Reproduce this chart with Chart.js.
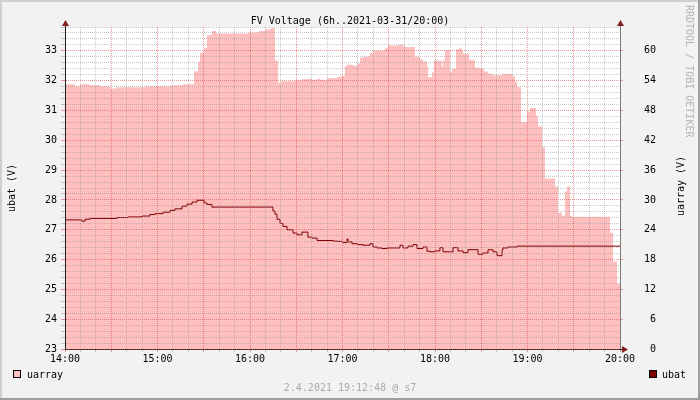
<!DOCTYPE html>
<html><head><meta charset="utf-8">
<script src="https://cdn.jsdelivr.net/npm/chart.js@4/dist/chart.umd.min.js"></script>
<style>html,body{margin:0;padding:0;background:#f2f2f2;}canvas{display:block;}</style>
</head><body>
<canvas id="c" width="700" height="400"></canvas>
<script>
const chartTitle = 'FV Voltage (6h..2021-03-31/20:00)';
const hourLabels = ['14:00','15:00','16:00','17:00','18:00','19:00','20:00'];
const seriesNames = ['uarray','ubat'];
const leftAxisTitle = 'ubat (V)';
const rightAxisTitle = 'uarray (V)';
const footerText = '2.4.2021 19:12:48 @ s7';
const watermarkText = 'RRDTOOL / TOBI OETIKER';

// minutes after 14:00
const uarrayMinutes = [0,6.5,9.7,16.2,22.7,29.2,33.7,51.9,68.1,76.5,83.7,86.3,87.6,90.2,92.1,95.3,97.9,118.7,125.8,129.7,133.6,136.2,138.2,140.1,149.2,153.7,157.6,160.2,163.5,165.4,170.0,176.4,179.7,181.6,182.9,186.8,189.4,191.4,193.3,197.8,199.8,207.6,209.5,216.0,218.6,220.5,227.0,230.3,232.2,234.8,235.5,238.1,239.3,244.5,245.2,246.5,249.7,251.0,253.6,255.6,257.5,258.2,262.1,265.9,269.2,271.8,274.4,277.6,283.5,289.9,291.9,293.2,295.8,299.7,301.6,305.5,306.8,309.4,311.3,317.8,319.8,322.4,324.3,325.6,327.6,328.9,353.5,355.5,358.1,360];
const uarrayValues = [53.3,52.9,53.3,53.1,52.9,52.4,52.7,52.9,53.1,53.3,55.9,57.8,59.6,60.5,63.2,64.0,63.5,63.7,64.0,64.3,64.6,58.0,53.6,53.9,54.1,54.3,54.4,54.2,54.4,54.2,54.5,54.8,55.0,57.0,57.2,57.0,57.5,58.6,58.8,59.5,60.0,60.5,61.1,61.3,61.1,60.8,58.8,58.3,57.9,56.8,54.7,55.7,58.0,56.8,58.0,60.1,55.8,56.4,60.3,60.5,60.1,59.4,58.2,56.6,56.4,55.8,55.4,55.1,55.4,54.9,53.8,52.7,45.7,47.8,48.5,46.8,44.8,40.6,34.3,32.7,27.4,26.8,31.7,32.7,26.8,26.6,23.4,17.6,13.2,13.2];
const ubatMinutes = [0,11.0,13.0,16.2,33.7,40.9,49.9,55.1,58.4,63.6,68.1,71.3,75.9,79.1,82.4,85.6,90.2,92.1,95.3,134.9,136.2,137.5,139.5,141.4,144.0,147.9,150.5,153.7,157.6,160.2,163.5,173.8,176.4,180.3,182.9,183.6,186.2,190.0,193.3,197.8,199.8,202.4,205.6,208.9,217.3,219.2,222.5,225.7,228.3,232.2,234.8,236.8,240.0,243.2,245.2,251.7,254.9,258.2,261.4,267.9,271.1,274.4,277.6,280.2,283.5,284.1,287.3,293.2,360];
const ubatValues = [27.33,27.29,27.35,27.38,27.41,27.43,27.46,27.51,27.54,27.59,27.65,27.70,27.79,27.86,27.93,27.99,27.90,27.85,27.76,27.63,27.52,27.35,27.21,27.11,27.00,26.89,26.83,26.92,26.75,26.72,26.64,26.62,26.61,26.57,26.69,26.59,26.53,26.50,26.48,26.53,26.42,26.39,26.37,26.39,26.48,26.39,26.45,26.50,26.37,26.42,26.28,26.26,26.29,26.40,26.26,26.40,26.29,26.23,26.33,26.18,26.22,26.33,26.26,26.13,26.33,26.39,26.42,26.45,26.45];

const FONT = '"DejaVu Sans Mono", monospace';
const uarrayColor = '#FFBFBF';
const ubatColor = '#800000';
const gridColor = 'rgba(143,143,143,0.5)';
const mgridColor = 'rgba(222,79,79,0.6)';
const isInt = v => Math.abs(v - Math.round(v)) < 1e-6;

const decor = {
  id: 'decor',
  beforeDraw(chart) {
    const {ctx, chartArea: a, width: W, height: H} = chart;
    ctx.save();
    ctx.fillStyle = '#f2f2f2'; ctx.fillRect(0, 0, W, H);
    ctx.fillStyle = '#cfcfcf'; ctx.fillRect(0, 0, W, 2); ctx.fillRect(0, 0, 2, H);
    ctx.fillStyle = '#9e9e9e'; ctx.fillRect(0, H - 2, W, 2); ctx.fillRect(W - 2, 0, 2, H);
    ctx.fillStyle = '#ffffff'; ctx.fillRect(a.left, a.top, a.right - a.left, a.bottom - a.top);
    ctx.restore();
  },
  afterDraw(chart) {
    const {ctx, chartArea: a} = chart;
    ctx.save();
    ctx.strokeStyle = '#1f1f1f'; ctx.lineWidth = 1;
    ctx.beginPath();
    ctx.moveTo(a.left + 0.5, a.top); ctx.lineTo(a.left + 0.5, a.top - 3);
    ctx.moveTo(a.right, a.bottom + 0.5); ctx.lineTo(a.right + 3, a.bottom + 0.5);
    ctx.stroke();
    ctx.strokeStyle = '#7a7a7a';
    ctx.beginPath(); ctx.moveTo(a.right + 0.5, a.top); ctx.lineTo(a.right + 0.5, a.top - 3); ctx.stroke();
    ctx.fillStyle = '#801f1f';
    const tri = (p) => { ctx.beginPath(); ctx.moveTo(p[0], p[1]); ctx.lineTo(p[2], p[3]); ctx.lineTo(p[4], p[5]); ctx.closePath(); ctx.fill(); };
    tri([a.left + 0.5, a.top - 7, a.left - 3, a.top - 1, a.left + 4, a.top - 1]);
    tri([a.right + 0.5, a.top - 7, a.right - 3, a.top - 1, a.right + 4, a.top - 1]);
    tri([a.right + 8, a.bottom + 0.5, a.right + 2, a.bottom - 3, a.right + 2, a.bottom + 4]);

    ctx.font = '10px ' + FONT;
    ctx.textBaseline = 'alphabetic'; ctx.textAlign = 'left';
    ctx.fillStyle = uarrayColor; ctx.fillRect(13.5, 370.5, 7, 7);
    ctx.strokeStyle = '#000'; ctx.strokeRect(13.5, 370.5, 7, 7);
    ctx.fillStyle = '#000'; ctx.fillText(seriesNames[0], 27, 378);
    ctx.fillStyle = ubatColor; ctx.fillRect(649.5, 370.5, 7, 7);
    ctx.strokeStyle = '#000'; ctx.strokeRect(649.5, 370.5, 7, 7);
    ctx.fillStyle = '#000'; ctx.fillText(seriesNames[1], 662, 378);
    ctx.fillStyle = '#aaaaaa'; ctx.textAlign = 'center';
    ctx.fillText(footerText, 350, 391);
    ctx.save();
    ctx.translate(681, 186); ctx.rotate(-Math.PI / 2);
    ctx.fillStyle = '#000'; ctx.textAlign = 'center'; ctx.textBaseline = 'middle';
    ctx.fillText(rightAxisTitle, 0, 0);
    ctx.restore();
    ctx.save();
    ctx.translate(689, 5); ctx.rotate(Math.PI / 2);
    ctx.fillStyle = '#b4b4b4'; ctx.textAlign = 'left'; ctx.textBaseline = 'middle';
    ctx.fillText(watermarkText, 0, 0);
    ctx.restore();
    ctx.restore();
  }
};

new Chart(document.getElementById('c'), {
  type: 'line',
  data: {
    datasets: [
      {
        label: seriesNames[1],
        data: ubatMinutes.map((m, i) => ({x: m, y: ubatValues[i]})),
        yAxisID: 'y', stepped: true, fill: false,
        borderColor: ubatColor, borderWidth: 1, pointRadius: 0
      },
      {
        label: seriesNames[0],
        data: uarrayMinutes.map((m, i) => ({x: m, y: uarrayValues[i]})),
        yAxisID: 'y1', stepped: true, fill: 'origin',
        backgroundColor: uarrayColor, borderColor: uarrayColor, borderWidth: 0, pointRadius: 0
      }
    ]
  },
  options: {
    responsive: false, animation: false, devicePixelRatio: 1, events: [],
    layout: {padding: 0},
    plugins: {
      legend: {display: false}, tooltip: {enabled: false},
      title: {display: true, text: chartTitle, color: '#000',
        font: {family: FONT, size: 10, weight: 'normal', lineHeight: 1.1},
        padding: {top: 10, bottom: 0}}
    },
    scales: {
      x: {
        type: 'linear', min: 0, max: 360,
        afterFit: s => { s.height = 51; },
        ticks: {stepSize: 10, autoSkip: false, maxRotation: 0, padding: 1, color: '#000',
          font: {family: FONT, size: 10},
          callback: v => (v % 60 === 0 ? hourLabels[v / 60] : '')},
        grid: {z: 1, color: c => (c.tick && c.tick.value % 30 === 0 ? mgridColor : gridColor), tickLength: 3, lineWidth: 1},
        border: {z: 1, display: true, color: '#1f1f1f', width: 1, dash: [1, 1]}
      },
      y: {
        position: 'left', min: 23, max: 33.8,
        afterFit: s => { s.width = 65; },
        ticks: {stepSize: 0.2, autoSkip: false, padding: 4, color: '#000',
          font: {family: FONT, size: 10},
          callback: v => (isInt(v) ? String(Math.round(v)) : '')},
        grid: {z: 1, color: c => (c.tick && isInt(c.tick.value) ? mgridColor : gridColor), tickLength: 4, lineWidth: 1},
        border: {z: 1, display: true, color: '#1f1f1f', width: 1, dash: [1, 1]},
        title: {display: true, text: leftAxisTitle, color: '#000', font: {family: FONT, size: 10}, padding: {top: 6, bottom: 0}}
      },
      y1: {
        position: 'right', min: 0, max: 64.8,
        afterFit: s => { s.width = 80; },
        ticks: {stepSize: 6, autoSkip: false, padding: 21, color: '#000',
          font: {family: FONT, size: 10},
          callback: v => (v % 6 === 0 && v <= 60 ? String(v).padStart(2, ' ') : '')},
        grid: {z: 1, drawOnChartArea: false, color: c => (c.tick && c.tick.value % 6 === 0 ? mgridColor : 'rgba(0,0,0,0)'), tickLength: 3},
        border: {z: 1, display: true, color: '#7a7a7a', width: 1}
      }
    }
  },
  plugins: [decor]
});
</script>
</body></html>
